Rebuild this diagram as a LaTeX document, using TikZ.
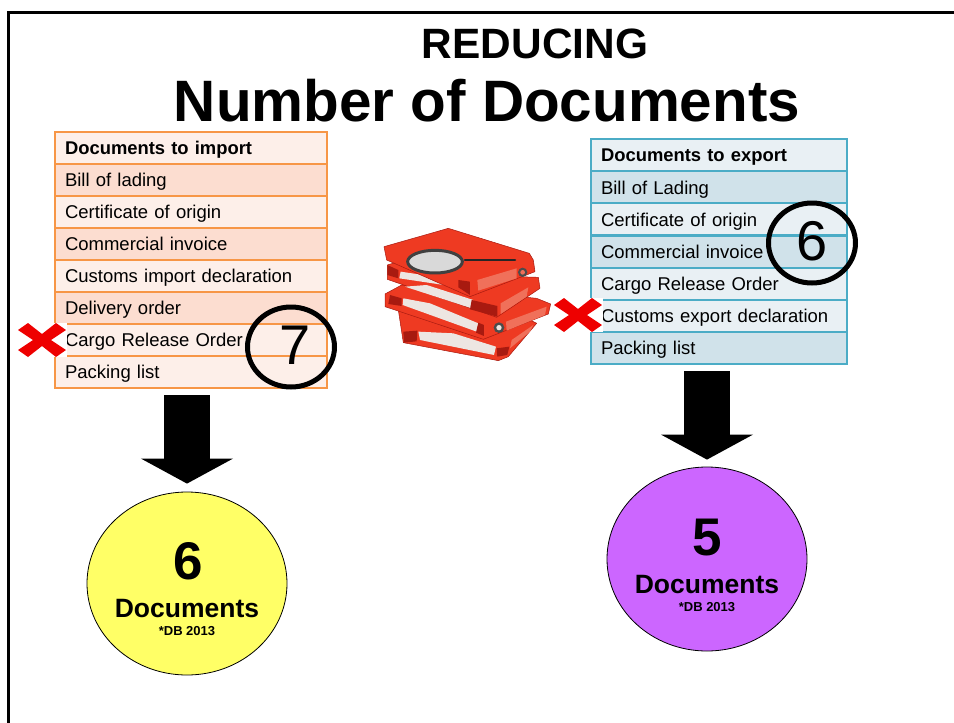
\documentclass[tikz,border=0pt]{standalone}
\usepackage{fontspec}
\setmainfont{Liberation Sans}
\usetikzlibrary{shapes.geometric,arrows.meta}
\definecolor{orangeline}{HTML}{F79646}
\definecolor{orangelight}{HTML}{FDEFE9}
\definecolor{orangedark}{HTML}{FCDDD0}
\definecolor{blueline}{HTML}{4BACC6}
\definecolor{bluelight}{HTML}{E9F0F4}
\definecolor{bluedark}{HTML}{D0E2EA}
\definecolor{xred}{HTML}{EE0000}
\definecolor{fred}{HTML}{EE3A22}
\definecolor{fdark}{HTML}{A81A10}
\definecolor{flabel}{HTML}{F0705A}
\definecolor{fpage}{HTML}{EDE6E2}
\definecolor{blobyellow}{HTML}{FFFF66}
\definecolor{blobpurple}{HTML}{CC66FF}
\tikzset{
  rowbox/.style={draw,line width=2pt,rectangle,anchor=north west,inner xsep=10pt,inner ysep=0pt,
    text height=15.5pt,text depth=2pt,align=left,font=\fontsize{18.5}{20}\selectfont,text=black},
  imp/.style={rowbox,draw=orangeline,minimum height=32pt,text width=252pt},
  expo/.style={rowbox,draw=blueline,minimum height=32pt,text width=236pt},
  tally/.style={draw=black,line width=5pt,ellipse,minimum width=87pt,minimum height=80pt,inner sep=0pt},
  tallydigit/.style={font=\fontsize{56}{60}\selectfont,inner sep=0pt},
  blob/.style={draw=black,line width=0.8pt,ellipse,inner sep=0pt},
  bigarrow/.style={line width=46pt,black,-{Triangle[length=25pt,width=91pt]}},
  bignum/.style={font=\bfseries\fontsize{53}{56}\selectfont},
  docword/.style={font=\bfseries\fontsize{26.5}{28}\selectfont},
  dbnote/.style={font=\bfseries\fontsize{13}{14}\selectfont},
  headrow/.style={font=\bfseries\fontsize{18.4}{20}\selectfont},
  foldercover/.style={fill=fred,draw=fdark,line width=0.5pt,line join=round},
  folderpage/.style={fill=fpage,draw=none},
  folderspine/.style={fill=fdark,draw=none},
  folderlabel/.style={fill=flabel,draw=none},
}
\newcommand{\redcross}[2]{%
  \fill[white] (#1-24.5,#2-17) rectangle (#1+24.5,#2+17);
  \fill[xred] (#1-24,#2-10) -- (#1-14,#2-17) -- (#1,#2-6) -- (#1+14,#2-17) -- (#1+24,#2-10) -- (#1+9,#2)
    -- (#1+24,#2+10) -- (#1+14,#2+17) -- (#1,#2+6) -- (#1-14,#2+17) -- (#1-24,#2+10) -- (#1-9,#2) -- cycle;}
\begin{document}
\begin{tikzpicture}[x=1pt,y=-1pt]
\useasboundingbox (0,0) rectangle (954,723);
\fill[white] (0,0) rectangle (954,723);
\draw[black,line width=2.6pt] (8.5,723) -- (8.5,12.5) -- (954,12.5);
\node[font=\bfseries\fontsize{42.4}{46}\selectfont] (title1) at (535,43.5) {REDUCING};
\node[font=\bfseries\fontsize{58.4}{62}\selectfont] (title2) at (487,101) {Number of Documents};
% import table
\node[imp,fill=orangelight,headrow] (i0) at (54,130.5) {Documents to import};
\node[imp,fill=orangedark]  (i1) at (54,162.5) {Bill of lading};
\node[imp,fill=orangelight] (i2) at (54,194.5) {Certificate of origin};
\node[imp,fill=orangedark]  (i3) at (54,226.5) {Commercial invoice};
\node[imp,fill=orangelight] (i4) at (54,258.5) {Customs import declaration};
\node[imp,fill=orangedark]  (i5) at (54,290.5) {Delivery order};
\node[imp,fill=orangelight] (i6) at (54,322.5) {Cargo Release Order};
\node[imp,fill=orangelight] (i7) at (54,354.5) {Packing list};
% export table
\node[expo,fill=bluelight,headrow] (e0) at (590,138.2) {Documents to export};
\node[expo,fill=bluedark]  (e1) at (590,170.3) {Bill of Lading};
\node[expo,fill=bluelight] (e2) at (590,202.4) {Certificate of origin};
\node[expo,fill=bluedark]  (e3) at (590,234.5) {Commercial invoice};
\node[expo,fill=bluelight] (e4) at (590,266.6) {Cargo Release Order};
\node[expo,fill=bluelight] (e5) at (590,298.7) {Customs export declaration};
\node[expo,fill=bluedark]  (e6) at (590,330.8) {Packing list};
% folders
\begin{scope}[shift={(370,200)},x=0.3333pt,y=-0.3333pt]
  % bottom folder
  \path[foldercover] (85,330) -- (100,428) -- (385,482) -- (415,470) -- (500,370) -- (440,340) -- (200,325) -- cycle;
  \path[folderpage] (145,395) -- (150,420) -- (372,465) -- (378,440) -- (250,400) -- cycle;
  \path[folderspine] (100,395) -- (142,392) -- (140,424) -- (102,428) -- cycle;
  \path[folderspine] (380,445) -- (418,440) -- (412,465) -- (382,470) -- cycle;
  \path[folderlabel] (425,420) -- (490,375) -- (480,395) -- (420,445) -- cycle;
  % third folder
  \path[foldercover] (45,282) -- (45,320) -- (340,418) -- (535,342) -- (542,312) -- (500,295) -- (95,255) -- cycle;
  \path[folderpage] (100,295) -- (98,315) -- (320,395) -- (325,370) -- (180,310) -- cycle;
  \path[folderspine] (60,285) -- (95,295) -- (95,318) -- (55,312) -- cycle;
  \path[folderspine] (325,368) -- (342,375) -- (342,408) -- (318,398) -- cycle;
  \path[folderlabel] (408,365) -- (530,320) -- (525,345) -- (410,392) -- cycle;
  \fill[black!70] (387,383) circle (16);
  \fill[fpage] (387,383) circle (8);
  % second folder
  \path[foldercover] (52,195) -- (52,238) -- (380,352) -- (510,265) -- (505,232) -- (440,230) -- (100,180) -- cycle;
  \path[folderpage] (92,215) -- (88,235) -- (255,260) -- (260,240) -- cycle;
  \path[folderpage] (105,260) -- (305,325) -- (310,300) -- (170,255) -- cycle;
  \path[folderspine] (305,300) -- (382,318) -- (382,350) -- (300,328) -- cycle;
  \path[folderlabel] (392,310) -- (475,262) -- (470,290) -- (392,342) -- cycle;
  % top folder
  \path[foldercover] (42,140) -- (50,180) -- (300,290) -- (495,215) -- (490,180) -- (478,160) -- (235,85) -- cycle;
  \path[folderspine] (52,195) -- (85,210) -- (85,235) -- (52,225) -- cycle;
  \path[folderspine] (265,240) -- (300,245) -- (300,285) -- (265,262) -- cycle;
  \path[folderlabel] (322,240) -- (440,205) -- (440,235) -- (325,272) -- cycle;
  \fill[black!70] (458,217) circle (14);
  \fill[flabel] (458,217) circle (7);
  % magnifier
  \draw[black!85,line width=2.6pt,line cap=round] (285,180) -- (435,180);
  \path[fill=gray!30,draw=black!75,line width=3pt] (195,185) ellipse [x radius=82,y radius=34];
\end{scope}
% crosses
\redcross{42}{340}
\redcross{578}{315}
% tally rings
\node[tally] (ring7) at (291,347) {};
\node[tally] (ring6) at (812,243) {};
\node[tallydigit] (digit7) at (295,345) {7};
\node[tallydigit] (digit6) at (812,241) {6};
% result blobs
\node[blob,fill=blobyellow,minimum width=200pt,minimum height=183pt] (b1) at (187,583.5) {};
\node[blob,fill=blobpurple,minimum width=200pt,minimum height=184pt] (b2) at (707,559) {};
\node[bignum] (n1) at (188,561.5) {6};
\node[docword] (w1) at (187,608.5) {Documents};
\node[dbnote] (d1) at (187,631) {*DB 2013};
\node[bignum] (n2) at (707,537.5) {5};
\node[docword] (w2) at (707,584.5) {Documents};
\node[dbnote] (d2) at (707,607) {*DB 2013};
% arrows
\coordinate (a1) at (187,395);
\coordinate (a2) at (707,371);
\draw[bigarrow,shorten >=8pt] (a1) -- (b1.north);
\draw[bigarrow,shorten >=7pt] (a2) -- (b2.north);
\end{tikzpicture}
\end{document}
